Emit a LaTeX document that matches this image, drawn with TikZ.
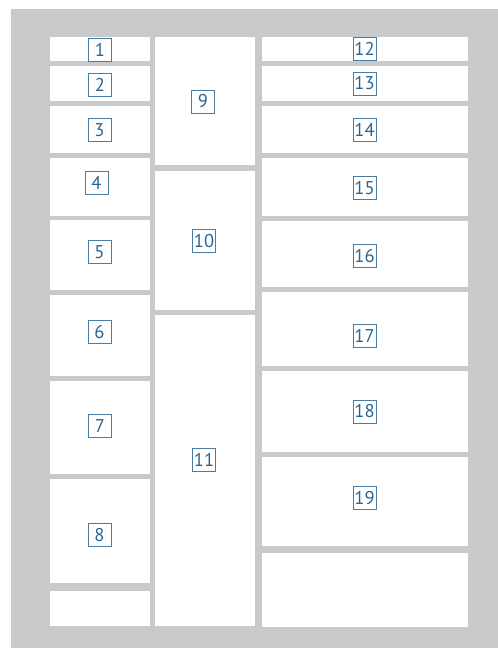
\documentclass[tikz,border=0pt]{standalone}
\usepackage{fontspec}
\setmainfont{PT Sans}
\definecolor{bggray}{HTML}{C8C9CB}
\definecolor{labblue}{HTML}{2A6592}
\begin{document}
\begin{tikzpicture}[x=1pt,y=-1pt,
  cell/.style={fill=white},
  lab/.style={draw=labblue!85,line width=0.9pt,text=labblue,fill=white,
    font=\fontsize{18.5}{18.5}\selectfont,inner sep=0pt,minimum width=23pt,minimum height=23pt}]
\useasboundingbox (0,0) rectangle (498,648);
\fill[bggray] (11,9) rectangle (498,648);
% left column
\foreach \a/\b in {37/61,66/101,106/153,158/216,220/290,295/376,381/474,479/583,591/626}
  \fill[cell] (50,\a) rectangle (150,\b);
% middle column
\foreach \a/\b in {37/165,171/310,315/626}
  \fill[cell] (155,\a) rectangle (255,\b);
% right column
\foreach \a/\b in {37/61,66/101,106/153,158/216,221/287,292/366,371/452,457/546,553/627}
  \fill[cell] (262,\a) rectangle (468,\b);
% labels
\node[lab] (n1) at (100,49.5) {1};
\node[lab] (n2) at (100,84.5) {2};
\node[lab] (n3) at (99.5,130) {3};
\node[lab] (n4) at (96.5,183) {4};
\node[lab] (n5) at (99.5,252) {5};
\node[lab] (n6) at (99.5,332) {6};
\node[lab] (n7) at (100,426) {7};
\node[lab] (n8) at (99.5,535) {8};
\node[lab] (n9) at (203,101.5) {9};
\node[lab] (n10) at (204,241) {10};
\node[lab] (n11) at (204,460) {11};
\node[lab] (n12) at (364.5,48.5) {12};
\node[lab] (n13) at (364.5,83.5) {13};
\node[lab] (n14) at (364.5,130) {14};
\node[lab] (n15) at (364.5,188) {15};
\node[lab] (n16) at (364.5,256) {16};
\node[lab] (n17) at (364.5,336) {17};
\node[lab] (n18) at (364.5,411.5) {18};
\node[lab] (n19) at (364.5,498) {19};
\end{tikzpicture}
\end{document}
